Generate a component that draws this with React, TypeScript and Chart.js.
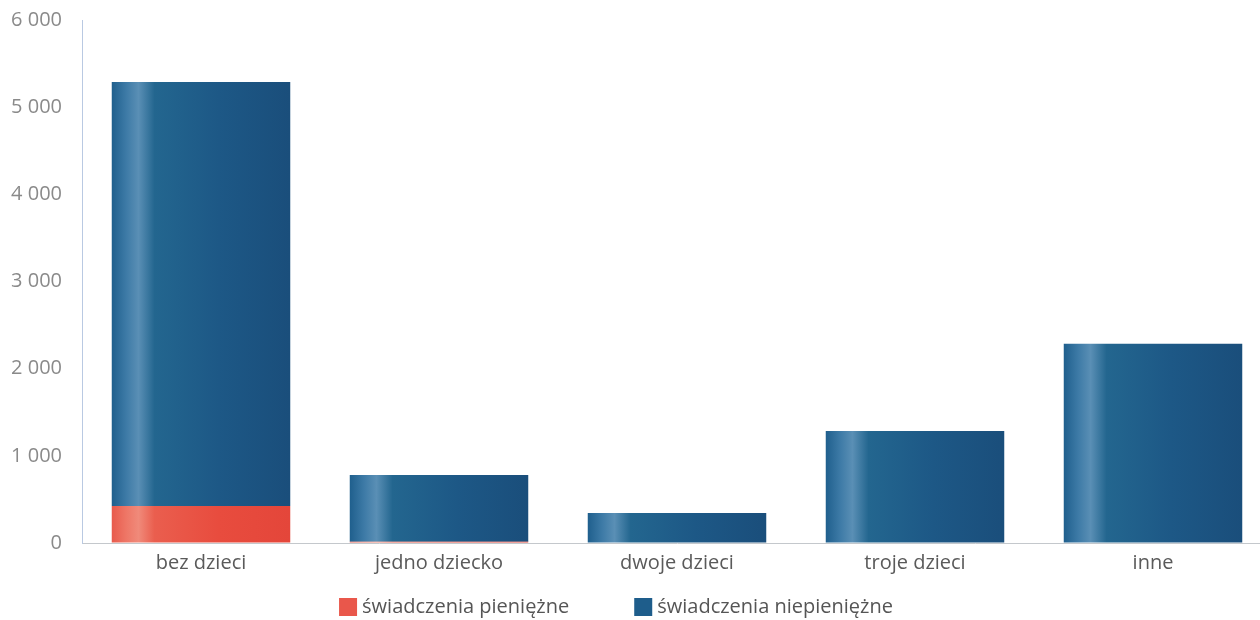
import React, { useEffect, useRef } from "react";
import { Chart, registerables } from "chart.js";

Chart.register(...registerables);

const categories = ["bez dzieci", "jedno dziecko", "dwoje dzieci", "troje dzieci", "inne"];
const cashBenefits = [425, 15, 0, 0, 0];
const nonCashBenefits = [4865, 765, 345, 1285, 2285];
const seriesNames = ["świadczenia pieniężne", "świadczenia niepieniężne"];
const seriesColors = ["#e9574b", "#1e5d8b"];
const yTicks = [0, 1000, 2000, 3000, 4000, 5000, 6000];

const FONT = "'Open Sans', 'Noto Sans', sans-serif";
const FONT_SIZE = 20;

function makeGradient(chart: any, index: number, stops: [number, string][], fallback: string) {
  const area = chart.chartArea;
  const xs = chart.scales && chart.scales.x;
  if (!area || !xs) return fallback;
  const cx = xs.getPixelForValue(index);
  const w = (xs.width / categories.length) * 0.75;
  const g = chart.ctx.createLinearGradient(cx - w / 2, 0, cx + w / 2, 0);
  stops.forEach(([p, c]) => g.addColorStop(p, c));
  return g;
}

const redStops: [number, string][] = [
  [0, "#e85a4c"],
  [0.08, "#ee7666"],
  [0.15, "#f08a7a"],
  [0.24, "#ea5e4e"],
  [0.6, "#e84c3e"],
  [1, "#e4463a"],
];
const blueStops: [number, string][] = [
  [0, "#1f5f8d"],
  [0.08, "#3d7aa6"],
  [0.15, "#5a8fb5"],
  [0.24, "#23668f"],
  [0.6, "#1d5886"],
  [1, "#1a4e7b"],
];

const legendPlugin = {
  id: "customLegend",
  afterDraw(chart: any) {
    const ctx = chart.ctx;
    ctx.save();
    ctx.font = `${FONT_SIZE}px ${FONT}`;
    ctx.textBaseline = "middle";
    ctx.textAlign = "left";
    const box = 18;
    const gapText = 5;
    const gapItems = 65;
    const widths = seriesNames.map((n) => ctx.measureText(n).width);
    const total = widths.reduce((a, w) => a + box + gapText + w, 0) + gapItems;
    let x = 616 - total / 2;
    const cy = 607;
    seriesNames.forEach((n, i) => {
      ctx.fillStyle = seriesColors[i];
      ctx.fillRect(x, cy - box / 2, box, box);
      ctx.fillStyle = "#555";
      ctx.fillText(n, x + box + gapText, cy);
      x += box + gapText + widths[i] + gapItems;
    });
    ctx.restore();
  },
};

export default function App() {
  const ref = useRef<HTMLCanvasElement>(null);
  useEffect(() => {
    if (!ref.current) return;
    const chart = new Chart(ref.current, {
      type: "bar",
      data: {
        labels: categories,
        datasets: [
          {
            label: seriesNames[0],
            data: cashBenefits,
            backgroundColor: (ctx: any) => makeGradient(ctx.chart, ctx.dataIndex, redStops, seriesColors[0]),
            borderWidth: 0,
            categoryPercentage: 1,
            barPercentage: 0.75,
          },
          {
            label: seriesNames[1],
            data: nonCashBenefits,
            backgroundColor: (ctx: any) => makeGradient(ctx.chart, ctx.dataIndex, blueStops, seriesColors[1]),
            borderWidth: 0,
            categoryPercentage: 1,
            barPercentage: 0.75,
          },
        ],
      },
      plugins: [legendPlugin],
      options: {
        animation: false,
        responsive: false,
        maintainAspectRatio: false,
        layout: { padding: { top: 20, left: 0, right: 0, bottom: 37 } },
        scales: {
          x: {
            stacked: true,
            grid: { display: false, drawTicks: false },
            border: { display: true, color: "#c4c8cc", width: 1 },
            ticks: { color: "#5a5a5a", font: { family: FONT, size: FONT_SIZE }, padding: 8, maxRotation: 0 },
          },
          y: {
            stacked: true,
            min: 0,
            max: 6000,
            afterFit: (s: any) => {
              s.width = 82;
              s.paddingTop = 12;
              s.paddingBottom = 0;
            },
            afterBuildTicks: (s: any) => {
              s.ticks = yTicks.map((v) => ({ value: v }));
            },
            grid: { color: "rgba(0,0,0,0)", drawTicks: false },
            border: { display: true, color: "#b9c9e2", width: 1, dash: [3, 3] },
            ticks: {
              color: "#8a8a8a",
              font: { family: FONT, size: FONT_SIZE },
              padding: 20,
              callback: (v: any) => String(v).replace(/\B(?=(\d{3})+(?!\d))/g, " "),
            },
          },
        },
        plugins: {
          legend: { display: false },
          tooltip: { enabled: false },
        },
      },
    } as any);
    return () => chart.destroy();
  }, []);
  return (
    <div style={{ position: "fixed", left: 0, top: 0, width: 1260, height: 620, overflow: "hidden", background: "#fff" }}>
      <canvas ref={ref} width={1272} height={620} style={{ display: "block", width: 1272, height: 620 }} />
    </div>
  );
}
